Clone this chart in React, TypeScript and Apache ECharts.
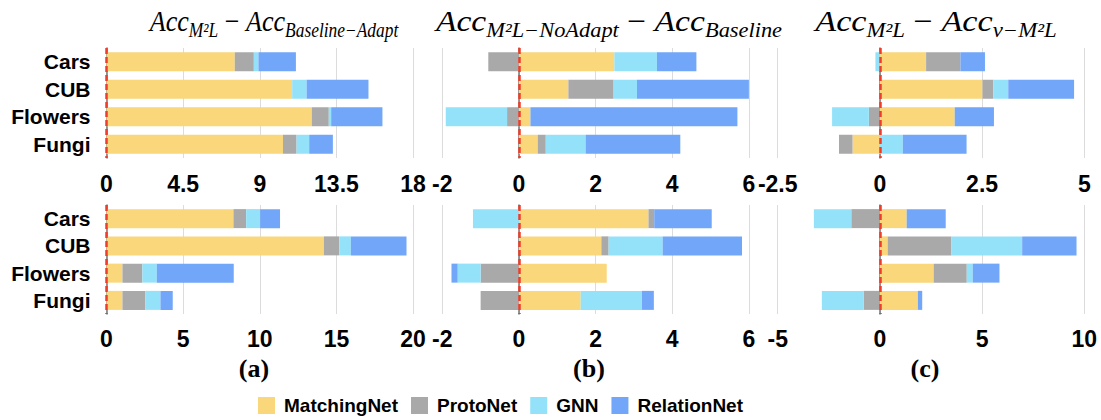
import React, { useEffect, useRef } from "react";
import * as echarts from "echarts";

const categories = ["Cars", "CUB", "Flowers", "Fungi"];
const seriesNames = ["MatchingNet", "ProtoNet", "GNN", "RelationNet"];
const colors = ["#F9D77A", "#A9A9A9", "#94E2FA", "#71A6F8"];

// Top row (a): Acc_M2L - Acc_Baseline-Adapt
const topA_Matching = [7.53, 10.9, 12.05, 10.36];
const topA_Proto = [1.12, 0, 1.0, 0.8];
const topA_GNN = [0.27, 0.85, 0.14, 0.74];
const topA_Relation = [2.2, 3.63, 3.01, 1.39];

// Top row (b): Acc_M2L-NoAdapt - Acc_Baseline
const topB_Matching = [2.49, 1.29, 0.3, 0.49];
const topB_Proto = [-0.8, 1.18, -0.31, 0.21];
const topB_GNN = [1.11, 0.61, -1.6, 1.04];
const topB_Relation = [1.03, 3.06, 5.4, 2.47];

// Top row (c): Acc_M2L - Acc_v-M2L
const topC_Matching = [1.13, 2.51, 1.83, -0.67];
const topC_Proto = [0.84, 0.26, -0.27, -0.33];
const topC_GNN = [-0.11, 0.37, -0.9, 0.56];
const topC_Relation = [0.6, 1.61, 0.96, 1.56];

// Bottom row (a)
const botA_Matching = [8.28, 14.18, 1.04, 1.04];
const botA_Proto = [0.83, 1.0, 1.3, 1.48];
const botA_GNN = [0.91, 0.76, 0.94, 1.0];
const botA_Relation = [1.3, 3.63, 5.02, 0.8];

// Bottom row (b)
const botB_Matching = [3.38, 2.15, 2.29, 1.61];
const botB_Proto = [0.15, 0.19, -1.0, -1.0];
const botB_GNN = [-1.2, 1.41, -0.6, 1.6];
const botB_Relation = [1.5, 2.07, -0.16, 0.31];

// Bottom row (c)
const botC_Matching = [1.31, 0.38, 2.63, 1.86];
const botC_Proto = [-1.4, 3.12, 1.62, -0.8];
const botC_GNN = [-1.83, 3.46, 0.29, -2.04];
const botC_Relation = [1.91, 2.66, 1.31, 0.21];

// Axis ranges [min, max, interval]
const axisRanges = [
  [0, 18, 4.5],
  [-2, 6, 2],
  [-2.5, 5, 2.5],
  [0, 20, 5],
  [-2, 6, 2],
  [-5, 10, 5],
];

const panelData = [
  [topA_Matching, topA_Proto, topA_GNN, topA_Relation],
  [topB_Matching, topB_Proto, topB_GNN, topB_Relation],
  [topC_Matching, topC_Proto, topC_GNN, topC_Relation],
  [botA_Matching, botA_Proto, botA_GNN, botA_Relation],
  [botB_Matching, botB_Proto, botB_GNN, botB_Relation],
  [botC_Matching, botC_Proto, botC_GNN, botC_Relation],
];

const panelLabels = ["(a)", "(b)", "(c)"];

export default function App() {
  const ref = useRef<HTMLDivElement>(null);
  useEffect(() => {
    if (!ref.current) return;
    const chart = echarts.init(ref.current, null, { renderer: "svg" });
    const lefts = [106.5, 442.3, 777.7];
    const tops = [48, 205];
    const heights = [110, 109];
    const W = 306.6;
    const grids: any[] = [];
    const xAxes: any[] = [];
    const yAxes: any[] = [];
    const series: any[] = [];
    for (let p = 0; p < 6; p++) {
      const row = Math.floor(p / 3);
      const col = p % 3;
      grids.push({ left: lefts[col], top: tops[row], width: W, height: heights[row] });
      const [mn, mx, iv] = axisRanges[p];
      xAxes.push({
        type: "value",
        gridIndex: p,
        min: mn,
        max: mx,
        interval: iv,
        axisLine: { show: false },
        axisTick: { show: false },
        axisLabel: {
          color: "#000",
          fontSize: 23,
          fontWeight: "bold",
          fontFamily: "Liberation Sans",
          margin: row === 0 ? 14 : 13,
        },
        splitLine: { show: true, lineStyle: { color: "#dcdcdc", width: 1 } },
      });
      yAxes.push({
        type: "category",
        gridIndex: p,
        data: categories,
        inverse: true,
        axisTick: { show: false },
        axisLine: { show: true, lineStyle: { color: "#777", width: 1.5 } },
        axisLabel: {
          show: col === 0,
          interval: 0,
          color: "#000",
          fontSize: 21,
          fontWeight: "bold",
          fontFamily: "Liberation Sans",
          margin: 16,
        },
      });
      panelData[p].forEach((vals, si) => {
        const s: any = {
          type: "bar",
          name: seriesNames[si],
          stack: "p" + p,
          xAxisIndex: p,
          yAxisIndex: p,
          data: vals,
          barWidth: 19,
          itemStyle: { color: colors[si] },
        };
        if (si === 0) {
          s.markLine = {
            silent: true,
            symbol: "none",
            label: { show: false },
            z: 10,
            lineStyle: { color: "#F03C28", width: 2.5, type: [6, 3] },
            data: [{ xAxis: 0 }],
          };
        }
        series.push(s);
      });
    }

    const titleRich = {
      a: { fontFamily: "Liberation Serif", fontStyle: "italic", fontSize: 30, color: "#000" },
      m: { fontFamily: "Liberation Serif", fontSize: 30, color: "#000" },
      s: {
        fontFamily: "Liberation Serif",
        fontStyle: "italic",
        fontSize: 20,
        color: "#000",
        padding: [19, 0, 0, 0],
      },
    };
    const titles = [
      { x: 274, sx: 0.87, text: "{a|Acc}{s|M²L}{m| − }{a|Acc}{s|Baseline−Adapt}" },
      { x: 609, sx: 1.12, text: "{a|Acc}{s|M²L−NoAdapt}{m| − }{a|Acc}{s|Baseline}" },
      { x: 936, sx: 1.14, text: "{a|Acc}{s|M²L}{m| − }{a|Acc}{s|ν−M²L}" },
    ];
    const graphics: any[] = titles.map((t) => ({
      type: "text",
      x: t.x,
      y: 21,
      scaleX: t.sx,
      style: { text: t.text, rich: titleRich, align: "center", verticalAlign: "middle" },
    }));
    const labelXs = [254, 589, 925];
    panelLabels.forEach((l, i) => {
      graphics.push({
        type: "text",
        x: labelXs[i],
        y: 368,
        style: {
          text: l,
          fontFamily: "Liberation Serif",
          fontWeight: "bold",
          fontSize: 26,
          fill: "#000",
          align: "center",
          verticalAlign: "middle",
        },
      });
    });

    chart.setOption({
      animation: false,
      backgroundColor: "#fff",
      grid: grids,
      xAxis: xAxes,
      yAxis: yAxes,
      series,
      legend: {
        data: seriesNames,
        left: 258,
        top: 396,
        padding: 0,
        icon: "rect",
        itemWidth: 17,
        itemHeight: 17,
        itemGap: 13,
        textStyle: {
          fontSize: 19,
          fontWeight: "bold",
          fontFamily: "Liberation Sans",
          color: "#000",
          padding: [0, 0, 0, 4],
        },
      },
      graphic: graphics,
    });
    return () => chart.dispose();
  }, []);
  return (
    <div
      ref={ref}
      style={{ position: "absolute", left: 0, top: 0, width: 1101, height: 420 }}
    />
  );
}
